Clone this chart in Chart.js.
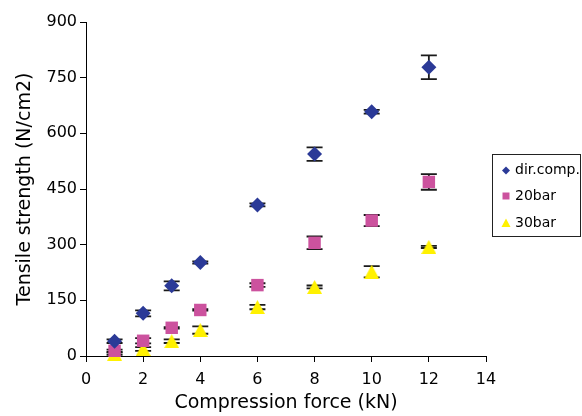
<!DOCTYPE html>
<html><head><meta charset="utf-8">
<script src="https://cdn.jsdelivr.net/npm/chart.js@4/dist/chart.umd.min.js"></script>
<style>html,body{margin:0;padding:0;background:#fff;} #wrap{width:582px;height:416px;position:relative}</style>
</head><body><div id="wrap"><canvas id="c" width="582" height="416"></canvas></div>
<script>
const forces = [1, 2, 3, 4, 6, 8, 10, 12];
const dirComp = [40, 115, 189, 252, 407, 544, 658, 778];
const dirCompErr = [5, 8, 12, 3, 4, 18, 5, 32];
const bar20 = [14, 41, 76, 124, 191, 305, 365, 469];
const bar20Err = [3, 7, 2, 2, 5, 17, 15, 21];
const bar30 = [6, 19, 40, 70, 132, 186, 227, 294];
const bar30Err = [3, 5, 5, 10, 6, 4, 15, 3];
const seriesNames = ['dir.comp.', '20bar', '30bar'];
const xTitle = 'Compression force (kN)';
const yTitle = 'Tensile strength (N/cm2)';

const FONT = 'DejaVu Sans';
const colors = ['#2B3A97', '#CC529E', '#FFF100'];

function triCanvas(w, h, color) {
  const c = document.createElement('canvas');
  c.width = w; c.height = h;
  const g = c.getContext('2d');
  g.fillStyle = color;
  g.beginPath(); g.moveTo(0, h); g.lineTo(w / 2, 0); g.lineTo(w, h); g.closePath(); g.fill();
  return c;
}
const triImg = triCanvas(15, 14, colors[2]);

function pts(ys) { return forces.map((f, i) => ({x: f, y: ys[i]})); }

const errorBars = {
  id: 'errorBars',
  beforeDatasetsDraw(chart) {
    const ctx = chart.ctx, xs = chart.scales.x, ys = chart.scales.y;
    ctx.save();
    ctx.strokeStyle = '#1a1a1a';
    ctx.lineWidth = 1.8;
    chart.data.datasets.forEach(ds => {
      ds.data.forEach((p, i) => {
        const e = ds.errors[i];
        const px = xs.getPixelForValue(p.x);
        const y1 = ys.getPixelForValue(p.y + e), y2 = ys.getPixelForValue(p.y - e);
        ctx.beginPath();
        ctx.moveTo(px, y1); ctx.lineTo(px, y2);
        ctx.moveTo(px - 8, y1); ctx.lineTo(px + 8, y1);
        ctx.moveTo(px - 8, y2); ctx.lineTo(px + 8, y2);
        ctx.stroke();
      });
    });
    ctx.restore();
  }
};

const boxLegend = {
  id: 'boxLegend',
  afterDraw(chart) {
    const ctx = chart.ctx;
    ctx.save();
    ctx.strokeStyle = '#222'; ctx.lineWidth = 1;
    ctx.strokeRect(492.5, 154.5, 88, 82);
    const rows = [170.5, 196, 223];
    ctx.font = '14px "' + FONT + '"';
    ctx.textBaseline = 'middle';
    seriesNames.forEach((n, i) => {
      const cx = 506, cy = rows[i];
      ctx.fillStyle = colors[i];
      ctx.beginPath();
      if (i === 0) { ctx.moveTo(cx, cy - 4); ctx.lineTo(cx + 4, cy); ctx.lineTo(cx, cy + 4); ctx.lineTo(cx - 4, cy); }
      else if (i === 1) { ctx.rect(cx - 3.5, cy - 3.5, 7, 7); }
      else { ctx.moveTo(cx - 4.5, cy + 4); ctx.lineTo(cx, cy - 4.5); ctx.lineTo(cx + 4.5, cy + 4); }
      ctx.closePath(); ctx.fill();
      ctx.fillStyle = '#000';
      ctx.fillText(n, 515, cy);
    });
    ctx.restore();
  }
};

new Chart(document.getElementById('c'), {
  type: 'scatter',
  data: {
    datasets: [
      {label: seriesNames[0], data: pts(dirComp), errors: dirCompErr, pointStyle: 'rectRot', radius: 7.5, backgroundColor: colors[0], borderWidth: 0, clip: false},
      {label: seriesNames[1], data: pts(bar20), errors: bar20Err, pointStyle: 'rect', radius: 8.8, backgroundColor: colors[1], borderWidth: 0, clip: false},
      {label: seriesNames[2], data: pts(bar30), errors: bar30Err, pointStyle: triImg, radius: 8, backgroundColor: colors[2], borderWidth: 0, clip: false}
    ]
  },
  options: {
    responsive: false,
    animation: false,
    events: [],
    layout: {padding: {top: 22, right: 96, left: 0, bottom: 0}},
    plugins: {legend: {display: false}, tooltip: {enabled: false}},
    scales: {
      x: {
        type: 'linear', min: 0, max: 14,
        ticks: {stepSize: 2, color: '#000', font: {family: FONT, size: 16}, padding: 8, maxRotation: 0},
        grid: {drawOnChartArea: false, tickLength: 6, color: '#000'},
        border: {color: '#000', width: 1},
        title: {display: true, text: xTitle, color: '#000', font: {family: FONT, size: 19}, padding: {top: 0, bottom: 2}},
        afterFit(s) { s.height = 60; }
      },
      y: {
        type: 'linear', min: 0, max: 900,
        ticks: {stepSize: 150, color: '#000', font: {family: FONT, size: 16}, padding: 3},
        grid: {drawOnChartArea: false, tickLength: 6, color: '#000'},
        border: {color: '#000', width: 1},
        title: {display: true, text: yTitle, color: '#000', font: {family: FONT, size: 19}, padding: {top: 14, bottom: 0}},
        afterFit(s) { s.width = 86; }
      }
    }
  },
  plugins: [errorBars, boxLegend]
});
</script></body></html>
